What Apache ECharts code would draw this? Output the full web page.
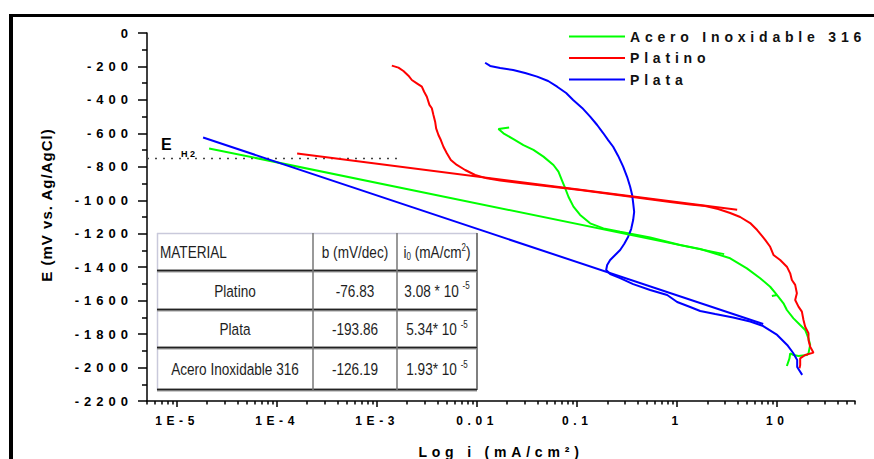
<!DOCTYPE html>
<html>
<head>
<meta charset="utf-8">
<script src="https://cdn.jsdelivr.net/npm/echarts@6/dist/echarts.min.js"></script>
<style>
  html, body { margin: 0; padding: 0; background: #fff; }
  #chart { width: 874px; height: 459px; }
</style>
</head>
<body>
<div id="chart"></div>
<script>
// Tafel polarization curves: E (mV vs. Ag/AgCl) against log i (mA/cm²)

const seriesNames = ['Acero Inoxidable 316', 'Platino', 'Plata'];
const seriesColors = ['#00ff00', '#ff0000', '#0000ff'];

// decade ticks of the current axis (log10 of i) and their labels
const decadeLogs = [-5, -4, -3, -2, -1, 0, 1];
const decadeLabels = ['1E-5', '1E-4', '1E-3', '0.01', '0.1', '1', '10'];
const currentMin = 5e-6;
const currentMax = 60;

// measured curves, points are [log i, E in mV]
const aceroCurve = [
  [-1.68, -565], [-1.787, -574], [-1.737, -600], [-1.637, -635], [-1.537, -670], [-1.437, -699],
  [-1.337, -739], [-1.237, -789], [-1.187, -829], [-1.153, -879], [-1.12, -928], [-1.087, -979],
  [-1.037, -1038], [-0.97, -1088], [-0.87, -1138], [-0.737, -1168], [-0.57, -1188], [-0.27, -1223],
  [0.03, -1267], [0.23, -1291], [0.33, -1309], [0.53, -1347], [0.697, -1407], [0.83, -1466],
  [0.93, -1517], [0.997, -1566], [0.947, -1572], [0.997, -1566], [1.063, -1616], [1.097, -1656],
  [1.163, -1706], [1.23, -1746], [1.28, -1775], [1.313, -1825], [1.33, -1865], [1.313, -1915],
  [1.297, -1925], [1.213, -1931], [1.163, -1925], [1.13, -1915], [1.123, -1945], [1.097, -1991]
];
const platinoCurve = [
  [-2.853, -195], [-2.787, -207], [-2.737, -227], [-2.687, -255], [-2.653, -281], [-2.603, -301],
  [-2.553, -321], [-2.53, -351], [-2.503, -381], [-2.477, -430], [-2.453, -450], [-2.437, -490],
  [-2.42, -530], [-2.41, -570], [-2.387, -610], [-2.363, -640], [-2.337, -680], [-2.303, -719],
  [-2.263, -759], [-2.203, -789], [-2.12, -819], [-2.02, -849], [-1.903, -869], [-1.77, -882],
  [-1.57, -897], [-1.27, -918], [-0.97, -939], [-0.67, -962], [-0.37, -986], [-0.07, -1010],
  [0.13, -1025], [0.28, -1034], [0.41, -1052], [0.53, -1076], [0.63, -1100], [0.73, -1136],
  [0.80, -1178], [0.85, -1214], [0.88, -1237], [0.93, -1278], [0.963, -1327], [1.03, -1357],
  [1.097, -1397], [1.13, -1437], [1.147, -1477], [1.18, -1506], [1.197, -1556], [1.18, -1596],
  [1.213, -1636], [1.247, -1666], [1.263, -1716], [1.28, -1756], [1.313, -1795], [1.313, -1835],
  [1.33, -1875], [1.363, -1911], [1.28, -1925], [1.23, -1945], [1.23, -1985], [1.223, -2004]
];
const plataCurve = [
  [-1.92, -178], [-1.87, -197], [-1.77, -209], [-1.64, -221], [-1.52, -239], [-1.40, -261],
  [-1.29, -287], [-1.20, -321], [-1.11, -359], [-1.04, -401], [-0.95, -448], [-0.87, -500],
  [-0.80, -550], [-0.74, -598], [-0.69, -640], [-0.64, -680], [-0.59, -735], [-0.54, -799],
  [-0.50, -861], [-0.47, -919], [-0.45, -968], [-0.44, -1016], [-0.43, -1070], [-0.44, -1118],
  [-0.46, -1172], [-0.49, -1218], [-0.53, -1261], [-0.57, -1297], [-0.62, -1327], [-0.67, -1357],
  [-0.70, -1387], [-0.71, -1417], [-0.67, -1441], [-0.57, -1465], [-0.44, -1501], [-0.27, -1536],
  [-0.10, -1566], [0.00, -1608], [0.13, -1638], [0.23, -1662], [0.38, -1680], [0.56, -1701],
  [0.73, -1725], [0.86, -1752], [1.00, -1805], [1.10, -1865], [1.16, -1913], [1.20, -1955],
  [1.20, -1997], [1.25, -2044]
];

// Tafel lines, end points [log i, E in mV]
const aceroTafel = [[-4.68, -690], [0.47, -1322]];
const platinoTafel = [[-3.80, -721], [0.60, -1057]];
const plataTafel = [[-4.74, -625], [0.86, -1740]];

// hydrogen equilibrium potential and the span of its guide line (log i)
const eH2 = -750;
const eH2Span = [Math.log10(currentMin), -2.79];

// Tafel parameters table
const tableHeader = ['MATERIAL', 'b (mV/dec)'];
const tableMaterials = ['Platino', 'Plata', 'Acero Inoxidable 316'];
const tableSlopes = ['-76.83', '-193.86', '-126.19'];
const tableI0Mantissa = ['3.08 * 10', '5.34* 10', '1.93* 10'];
const tableI0Exponent = ['-5', '-5', '-5'];

// ---------------------------------------------------------------------------
const AX_FONT = 'Liberation Sans';
const TABLE_FONT = 'Liberation Sans';
const TABLE_SQUEEZE = 0.8;   // condensed look of the table lettering

const xMin = Math.log10(currentMin);
const xMax = Math.log10(currentMax);

// minor log ticks (2..9 times each decade) inside the axis range
const minorLogs = [];
for (let n = -6; n <= 1; n++) {
  for (let k = 2; k <= 9; k++) {
    const v = Math.log10(k * Math.pow(10, n));
    if (v >= xMin - 1e-9 && v <= xMax + 1e-9) minorLogs.push(v);
  }
}

function lineSeries(name, color, data) {
  return {
    type: 'line', name: name, data: data, symbol: 'none', showSymbol: false,
    lineStyle: { color: color, width: 2 }, itemStyle: { color: color },
    xAxisIndex: 0, yAxisIndex: 0, silent: true, z: 3
  };
}

const series = [
  lineSeries(seriesNames[0], seriesColors[0], aceroCurve),
  lineSeries(seriesNames[1], seriesColors[1], platinoCurve),
  lineSeries(seriesNames[2], seriesColors[2], plataCurve),
  lineSeries(seriesNames[0], seriesColors[0], aceroTafel),
  lineSeries(seriesNames[1], seriesColors[1], platinoTafel),
  lineSeries(seriesNames[2], seriesColors[2], plataTafel),
  {
    type: 'line', name: 'EH2', data: [[eH2Span[0], eH2], [eH2Span[1], eH2]],
    symbol: 'none', silent: true, z: 2,
    lineStyle: { color: '#444', width: 1.5, type: [2, 6] }
  }
];

// table drawn as graphic elements
const colX = [157, 313, 397, 477];
const rowY = [233, 271, 310, 348, 390];
const tableEls = [];
tableEls.push({ type: 'rect', shape: { x: colX[0], y: rowY[0], width: colX[3] - colX[0], height: rowY[4] - rowY[0] },
  style: { fill: '#fff', stroke: null }, z: 10 });
tableEls.push({ type: 'line', shape: { x1: colX[0], y1: rowY[0] + 0.5, x2: colX[3], y2: rowY[0] + 0.5 }, style: { stroke: '#c9c9db', lineWidth: 1.5 }, z: 11 });
tableEls.push({ type: 'line', shape: { x1: colX[0] + 0.5, y1: rowY[0], x2: colX[0] + 0.5, y2: rowY[4] }, style: { stroke: '#c9c9db', lineWidth: 1.5 }, z: 11 });
tableEls.push({ type: 'line', shape: { x1: colX[3], y1: rowY[0], x2: colX[3], y2: rowY[4] }, style: { stroke: '#555', lineWidth: 1.5 }, z: 11 });
for (let r = 1; r <= 4; r++) {
  tableEls.push({ type: 'line', shape: { x1: colX[0], y1: rowY[r], x2: colX[3], y2: rowY[r] }, style: { stroke: '#9a9a9a', lineWidth: 3 }, z: 11 });
  tableEls.push({ type: 'line', shape: { x1: colX[0], y1: rowY[r] - 0.5, x2: colX[3], y2: rowY[r] - 0.5 }, style: { stroke: '#222', lineWidth: 1.5 }, z: 11 });
}
for (let c = 1; c <= 2; c++) {
  tableEls.push({ type: 'line', shape: { x1: colX[c], y1: rowY[0], x2: colX[c], y2: rowY[4] }, style: { stroke: '#777', lineWidth: 1.5 }, z: 11 });
}
function cellText(text, cx, cy, align, rich) {
  return {
    type: 'text', x: cx, y: cy, scaleX: TABLE_SQUEEZE, z: 12,
    style: {
      text: text, fill: '#1e1e1e', fontFamily: TABLE_FONT, fontSize: 17,
      align: align, verticalAlign: 'middle', rich: rich
    }
  };
}
const supRich = {
  b: { fontFamily: TABLE_FONT, fontSize: 17, lineHeight: 19, fill: '#1e1e1e', verticalAlign: 'middle' },
  sup: { fontFamily: TABLE_FONT, fontSize: 10, lineHeight: 19, fill: '#1e1e1e', verticalAlign: 'top' },
  sub: { fontFamily: TABLE_FONT, fontSize: 10, lineHeight: 19, fill: '#1e1e1e', verticalAlign: 'bottom' }
};
const colC = [(colX[0] + colX[1]) / 2, (colX[1] + colX[2]) / 2, (colX[2] + colX[3]) / 2];
const headY = (rowY[0] + rowY[1]) / 2;
tableEls.push(cellText(tableHeader[0], colX[0] + 3, headY, 'left'));
tableEls.push(cellText(tableHeader[1], colC[1], headY, 'center'));
tableEls.push(cellText('{b|i}{sub|0}{b| (mA/cm}{sup|2}{b|)}', colC[2], headY, 'center', supRich));
for (let r = 0; r < tableMaterials.length; r++) {
  const cy = (rowY[r + 1] + rowY[r + 2]) / 2;
  tableEls.push(cellText(tableMaterials[r], colC[0], cy, 'center'));
  tableEls.push(cellText(tableSlopes[r], colC[1], cy, 'center'));
  tableEls.push(cellText('{b|' + tableI0Mantissa[r] + ' }{sup|' + tableI0Exponent[r] + '}', colC[2], cy, 'center', supRich));
}

const chart = echarts.init(document.getElementById('chart'), null, { renderer: 'svg' });

chart.setOption({
  animation: false,
  backgroundColor: '#fff',
  grid: { left: 147, right: 19, top: 33, bottom: 58, containLabel: false, outerBoundsMode: 'none' },
  legend: {
    data: seriesNames, orient: 'vertical', left: 563, top: 24.5,
    itemWidth: 56, itemHeight: 14, itemGap: 7.5, selectedMode: false,
    itemStyle: { opacity: 0 },
    lineStyle: { width: 2 },
    textStyle: { fontFamily: AX_FONT, fontWeight: 'bold', fontSize: 14, color: '#111' }
  },
  xAxis: [
    {
      type: 'value', min: xMin, max: xMax, position: 'bottom',
      name: 'Log i (mA/cm²)', nameLocation: 'middle', nameGap: 44,
      nameTextStyle: { fontFamily: AX_FONT, fontWeight: 'bold', fontSize: 14, color: '#000' },
      axisLine: { show: true, onZero: false, lineStyle: { color: '#000', width: 1.5 } },
      axisTick: { show: true, customValues: decadeLogs, length: 6, lineStyle: { color: '#000', width: 1.5 } },
      axisLabel: {
        customValues: decadeLogs, margin: 14,
        fontFamily: AX_FONT, fontWeight: 'bold', fontSize: 12, color: '#000',
        formatter: function (v) {
          const i = decadeLogs.findIndex(d => Math.abs(d - v) < 1e-6);
          return i >= 0 ? decadeLabels[i] : '';
        }
      },
      splitLine: { show: false }
    },
    {
      type: 'value', min: xMin, max: xMax, position: 'bottom',
      axisLine: { show: false, onZero: false },
      axisTick: { show: true, customValues: minorLogs, length: 3.5, lineStyle: { color: '#000', width: 1.5 } },
      axisLabel: { show: false },
      splitLine: { show: false }
    }
  ],
  yAxis: {
    type: 'value', min: -2200, max: 0, interval: 200,
    name: 'E (mV vs. Ag/AgCl)', nameLocation: 'middle', nameGap: 93,
    nameTextStyle: { fontFamily: AX_FONT, fontWeight: 'bold', fontSize: 15, color: '#000', padding: [0, 0, 0, 24] },
    axisLine: { show: true, onZero: false, lineStyle: { color: '#000', width: 1.5 } },
    axisTick: { show: true, length: 9, lineStyle: { color: '#000', width: 1.5 } },
    minorTick: { show: true, splitNumber: 2, length: 5, lineStyle: { color: '#000', width: 1.5 } },
    axisLabel: {
      interval: 0, margin: 14, fontFamily: AX_FONT, fontWeight: 'bold', fontSize: 13, color: '#000',
      formatter: function (v) { return String(v); }
    },
    splitLine: { show: false }
  },
  graphic: [
    { type: 'line', shape: { x1: 9, y1: 15.5, x2: 874, y2: 15.5 }, style: { stroke: '#000', lineWidth: 3 }, z: 20 },
    { type: 'line', shape: { x1: 11, y1: 14, x2: 11, y2: 459 }, style: { stroke: '#000', lineWidth: 4 }, z: 20 },
    { type: 'text', x: 161, y: 144, z: 20,
      style: { text: 'E', fontFamily: AX_FONT, fontWeight: 'bold', fontSize: 16, fill: '#000', align: 'left', verticalAlign: 'middle' } },
    { type: 'text', x: 181, y: 154, z: 20,
      style: { text: 'H2', fontFamily: AX_FONT, fontWeight: 'bold', fontSize: 9, fill: '#000', align: 'left', verticalAlign: 'middle' } }
  ].concat(tableEls),
  series: series
});

// wide character spacing for the bold axis and legend texts
function spaceText() {
  document.querySelectorAll('#chart svg text').forEach(function (t) {
    const cs = getComputedStyle(t);
    const size = parseFloat(cs.fontSize);
    const bold = cs.fontWeight === 'bold' || parseInt(cs.fontWeight, 10) >= 600;
    let sp = 0;
    if (bold) {
      if (size === 13) sp = 5;
      else if (size === 12) sp = 4.6;
      else if (size === 14) sp = 4.8;
      else if (size === 15) sp = 1;
      else if (size === 9) sp = 2.5;
    }
    t.style.letterSpacing = sp ? sp + 'px' : '';
  });
}
spaceText();
chart.on('finished', spaceText);
setTimeout(spaceText, 50);
</script>
</body>
</html>
